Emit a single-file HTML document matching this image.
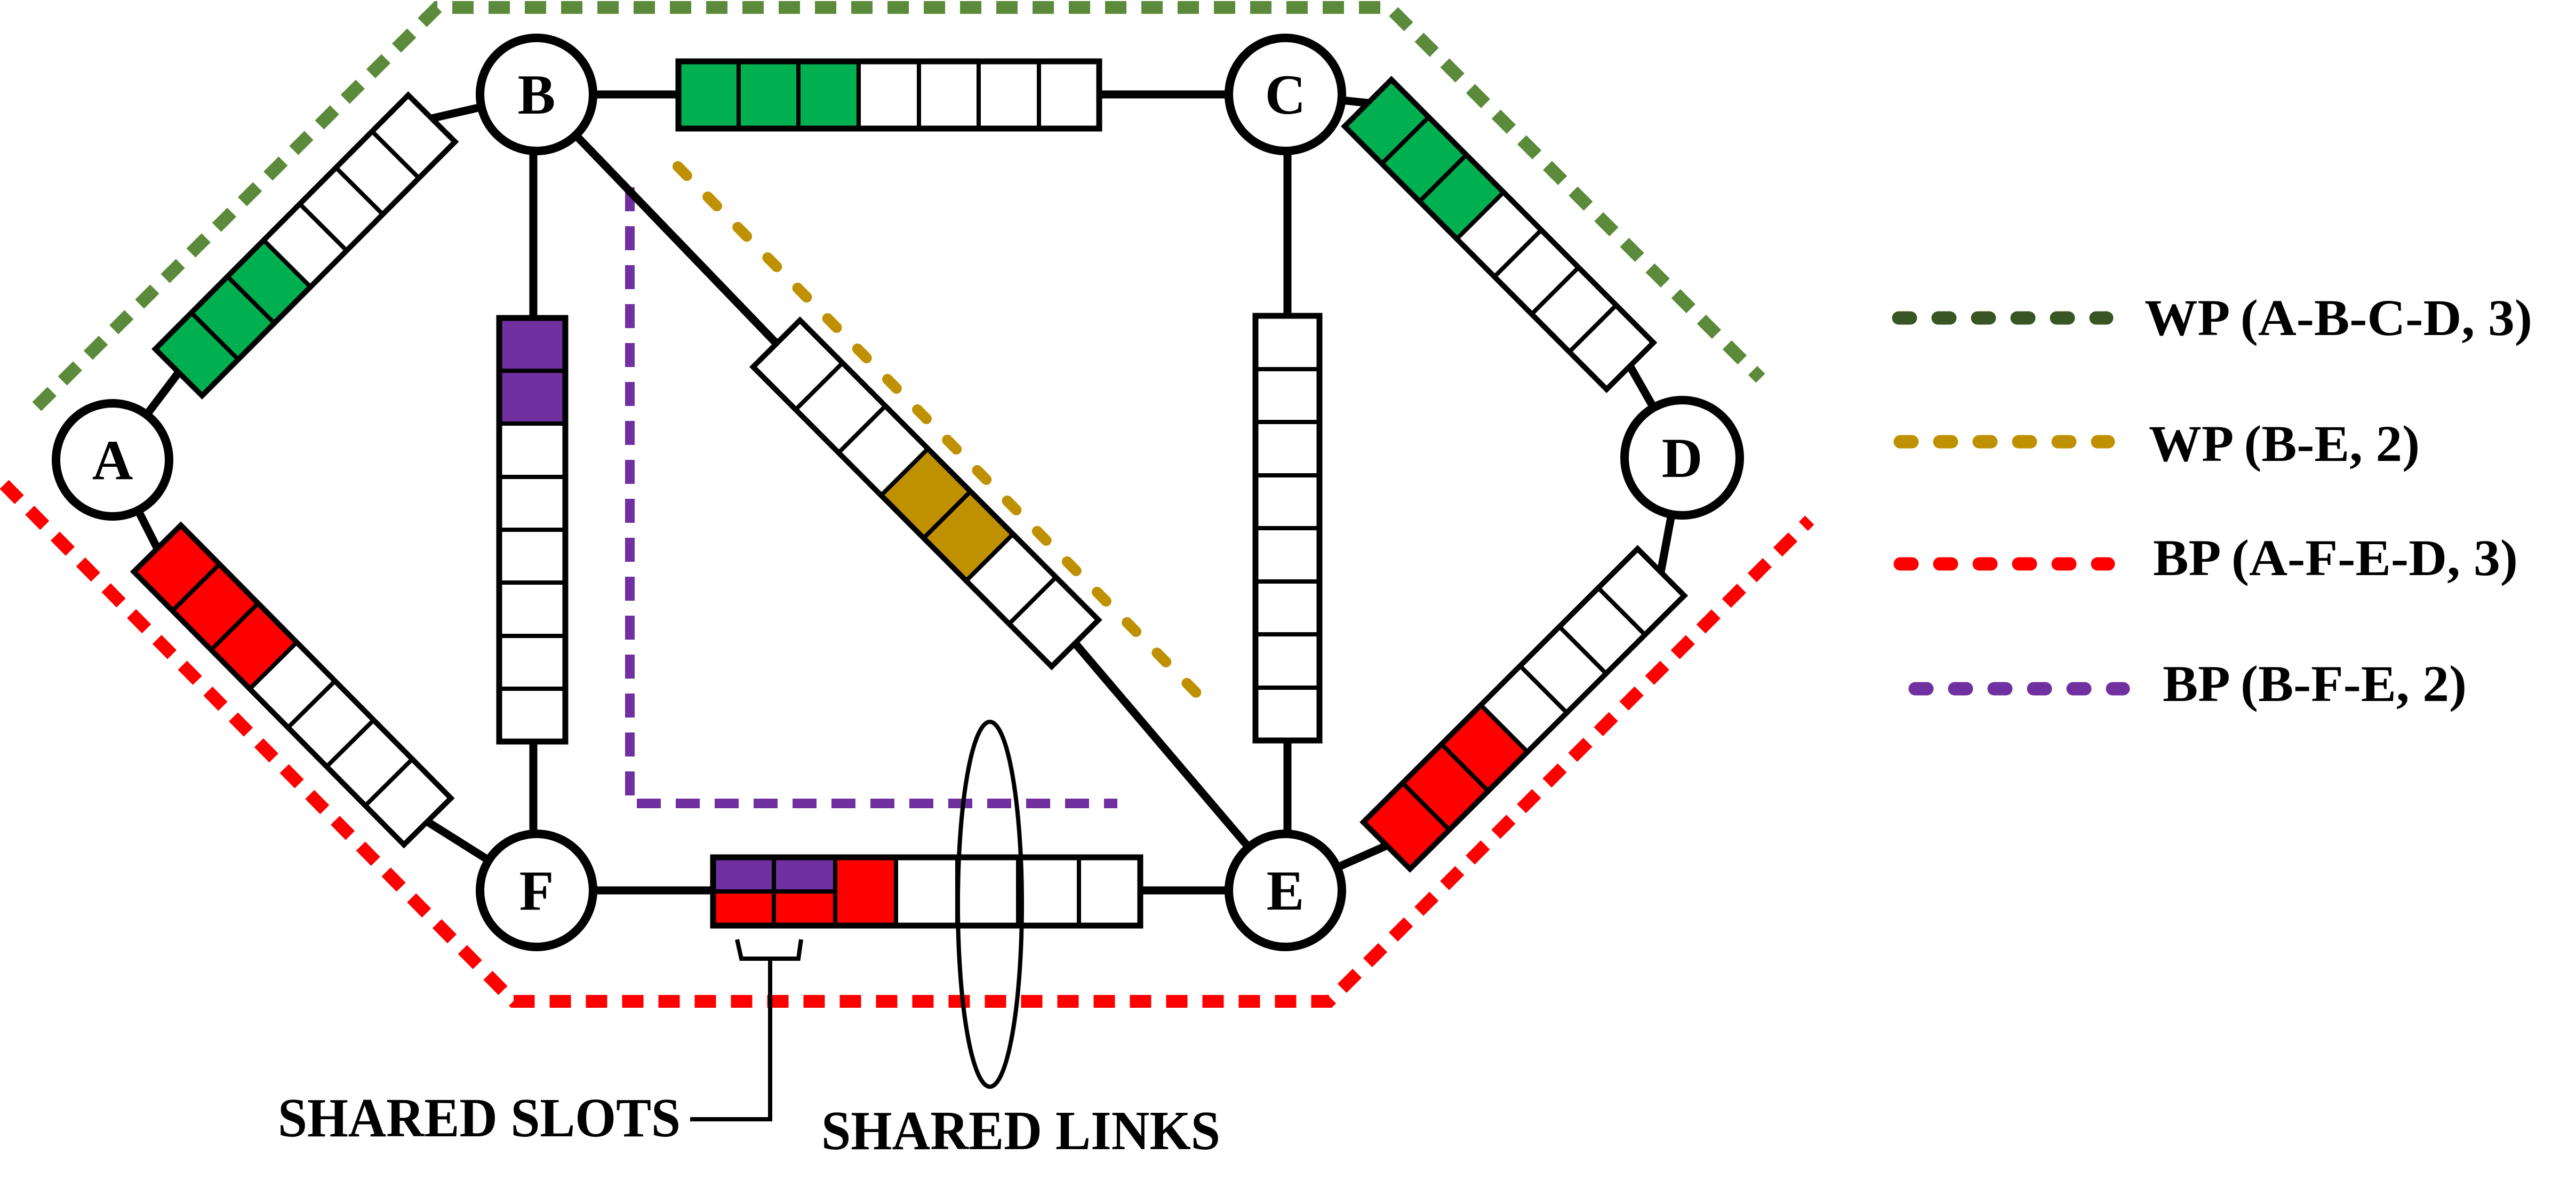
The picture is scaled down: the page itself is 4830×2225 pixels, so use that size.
<!DOCTYPE html>
<html><head><meta charset="utf-8"><style>
html,body{margin:0;padding:0;background:#fff;}
svg{display:block;}
text{font-family:"Liberation Serif",serif;font-weight:bold;fill:#000;}
</style></head><body>
<svg width="4830" height="2225" viewBox="0 0 4830 2225" xmlns="http://www.w3.org/2000/svg">
<rect width="4830" height="2225" fill="#fff"/>

<!-- dashed path outlines -->
<polyline points="69,762 820,14 2605,14 3301,709" fill="none" stroke="#5b8a3a" stroke-width="24" stroke-dasharray="40 28"/>
<polyline points="8,908 963,1877 2492,1877 3393,975" fill="none" stroke="#ff0000" stroke-width="24" stroke-dasharray="40 28"/>
<line x1="1271" y1="312" x2="2272" y2="1328" stroke="#bf9000" stroke-width="20" stroke-linecap="round" stroke-dasharray="24 56"/>
<polyline points="1181,351 1181,1506 2095,1506" fill="none" stroke="#7030a0" stroke-width="18" stroke-dasharray="45 28"/>

<!-- links -->
<g stroke="#000" stroke-width="15" fill="none">
<line x1="211" y1="862" x2="335" y2="698"/>
<line x1="809" y1="222" x2="1006" y2="177"/>
<line x1="211" y1="862" x2="295" y2="1028"/>
<line x1="801" y1="1540" x2="1006" y2="1669"/>
<line x1="1006" y1="177" x2="2410" y2="177"/>
<line x1="1000" y1="177" x2="1000" y2="1669"/>
<line x1="2414" y1="177" x2="2414" y2="1669"/>
<line x1="1006" y1="177" x2="1456" y2="644"/>
<line x1="2016" y1="1206" x2="2410" y2="1669"/>
<line x1="2410" y1="177" x2="2565" y2="193"/>
<line x1="3056" y1="686" x2="3154" y2="858"/>
<line x1="3154" y1="858" x2="3114" y2="1072"/>
<line x1="2600" y1="1585" x2="2410" y2="1669"/>
<line x1="1006" y1="1669" x2="2410" y2="1669"/>
</g>

<!-- diagonal bars -->
<!-- A-B -->
<g transform="translate(335,698) rotate(-45.1)">
<rect x="0" y="-62" width="96" height="124" fill="#00b050"/>
<rect x="96" y="-62" width="96" height="124" fill="#00b050"/>
<rect x="192" y="-62" width="96" height="124" fill="#00b050"/>
<rect x="288" y="-62" width="384" height="124" fill="#fff"/>
<g stroke="#000" stroke-width="8"><line x1="96" y1="-62" x2="96" y2="62"/><line x1="192" y1="-62" x2="192" y2="62"/><line x1="288" y1="-62" x2="288" y2="62"/><line x1="384" y1="-62" x2="384" y2="62"/><line x1="480" y1="-62" x2="480" y2="62"/><line x1="576" y1="-62" x2="576" y2="62"/></g>
<rect x="0" y="-62" width="672" height="124" fill="none" stroke="#000" stroke-width="10"/>
</g>
<!-- A-F -->
<g transform="translate(295,1028) rotate(45.3)">
<rect x="0" y="-62" width="309" height="124" fill="#ff0000"/>
<rect x="309" y="-62" width="411" height="124" fill="#fff"/>
<g stroke="#000" stroke-width="8"><line x1="103" y1="-62" x2="103" y2="62"/><line x1="206" y1="-62" x2="206" y2="62"/><line x1="309" y1="-62" x2="309" y2="62"/><line x1="411" y1="-62" x2="411" y2="62"/><line x1="514" y1="-62" x2="514" y2="62"/><line x1="617" y1="-62" x2="617" y2="62"/></g>
<rect x="0" y="-62" width="720" height="124" fill="none" stroke="#000" stroke-width="10"/>
</g>
<!-- C-D -->
<g transform="translate(2565,193) rotate(45.1)">
<rect x="0" y="-62" width="298" height="124" fill="#00b050"/>
<rect x="298" y="-62" width="398" height="124" fill="#fff"/>
<g stroke="#000" stroke-width="8"><line x1="99" y1="-62" x2="99" y2="62"/><line x1="199" y1="-62" x2="199" y2="62"/><line x1="298" y1="-62" x2="298" y2="62"/><line x1="398" y1="-62" x2="398" y2="62"/><line x1="497" y1="-62" x2="497" y2="62"/><line x1="597" y1="-62" x2="597" y2="62"/></g>
<rect x="0" y="-62" width="696" height="124" fill="none" stroke="#000" stroke-width="10"/>
</g>
<!-- D-E -->
<g transform="translate(2600,1585) rotate(-44.9)">
<rect x="0" y="-62" width="311" height="124" fill="#ff0000"/>
<rect x="311" y="-62" width="415" height="124" fill="#fff"/>
<g stroke="#000" stroke-width="8"><line x1="104" y1="-62" x2="104" y2="62"/><line x1="207" y1="-62" x2="207" y2="62"/><line x1="311" y1="-62" x2="311" y2="62"/><line x1="415" y1="-62" x2="415" y2="62"/><line x1="519" y1="-62" x2="519" y2="62"/><line x1="622" y1="-62" x2="622" y2="62"/></g>
<rect x="0" y="-62" width="726" height="124" fill="none" stroke="#000" stroke-width="10"/>
</g>
<!-- B-E -->
<g transform="translate(1456,644) rotate(45.1)">
<rect x="0" y="-62" width="793" height="124" fill="#fff"/>
<rect x="340" y="-62" width="226" height="124" fill="#bf9000"/>
<g stroke="#000" stroke-width="8"><line x1="113" y1="-62" x2="113" y2="62"/><line x1="227" y1="-62" x2="227" y2="62"/><line x1="340" y1="-62" x2="340" y2="62"/><line x1="453" y1="-62" x2="453" y2="62"/><line x1="566" y1="-62" x2="566" y2="62"/><line x1="680" y1="-62" x2="680" y2="62"/></g>
<rect x="0" y="-62" width="793" height="124" fill="none" stroke="#000" stroke-width="10"/>
</g>

<!-- B-C horizontal bar -->
<g>
<rect x="1272" y="115" width="789" height="126" fill="#fff"/>
<rect x="1272" y="115" width="338" height="126" fill="#00b050"/>
<g stroke="#000" stroke-width="8"><line x1="1385" y1="115" x2="1385" y2="241"/><line x1="1497" y1="115" x2="1497" y2="241"/><line x1="1610" y1="115" x2="1610" y2="241"/><line x1="1723" y1="115" x2="1723" y2="241"/><line x1="1835" y1="115" x2="1835" y2="241"/><line x1="1948" y1="115" x2="1948" y2="241"/></g>
<rect x="1272" y="115" width="789" height="126" fill="none" stroke="#000" stroke-width="11"/>
</g>

<!-- F-E horizontal bar -->
<g>
<rect x="1337" y="1607" width="801" height="128" fill="#fff"/>
<rect x="1337" y="1607" width="229" height="64" fill="#7030a0"/>
<rect x="1337" y="1671" width="229" height="64" fill="#ff0000"/>
<rect x="1566" y="1607" width="114" height="128" fill="#ff0000"/>
<g stroke="#000" stroke-width="8"><line x1="1451" y1="1607" x2="1451" y2="1735"/><line x1="1566" y1="1607" x2="1566" y2="1735"/><line x1="1680" y1="1607" x2="1680" y2="1735"/><line x1="1795" y1="1607" x2="1795" y2="1735"/><line x1="1909" y1="1607" x2="1909" y2="1735"/><line x1="2023" y1="1607" x2="2023" y2="1735"/><line x1="1337" y1="1671" x2="1566" y2="1671"/></g>
<rect x="1337" y="1607" width="801" height="128" fill="none" stroke="#000" stroke-width="11"/>
</g>

<!-- B-F vertical bar -->
<g>
<rect x="936" y="596" width="124" height="794" fill="#fff"/>
<rect x="936" y="596" width="124" height="198" fill="#7030a0"/>
<g stroke="#000" stroke-width="8"><line x1="936" y1="695" x2="1060" y2="695"/><line x1="936" y1="794" x2="1060" y2="794"/><line x1="936" y1="894" x2="1060" y2="894"/><line x1="936" y1="993" x2="1060" y2="993"/><line x1="936" y1="1092" x2="1060" y2="1092"/><line x1="936" y1="1192" x2="1060" y2="1192"/><line x1="936" y1="1291" x2="1060" y2="1291"/></g>
<rect x="936" y="596" width="124" height="794" fill="none" stroke="#000" stroke-width="11"/>
</g>
<!-- C-E vertical bar -->
<g>
<rect x="2354" y="592" width="120" height="796" fill="#fff"/>
<g stroke="#000" stroke-width="8"><line x1="2354" y1="692" x2="2474" y2="692"/><line x1="2354" y1="791" x2="2474" y2="791"/><line x1="2354" y1="891" x2="2474" y2="891"/><line x1="2354" y1="990" x2="2474" y2="990"/><line x1="2354" y1="1090" x2="2474" y2="1090"/><line x1="2354" y1="1189" x2="2474" y2="1189"/><line x1="2354" y1="1289" x2="2474" y2="1289"/></g>
<rect x="2354" y="592" width="120" height="796" fill="none" stroke="#000" stroke-width="11"/>
</g>

<!-- nodes -->
<g fill="#fff" stroke="#000" stroke-width="16">
<circle cx="211" cy="862" r="106"/>
<circle cx="1006" cy="177" r="106"/>
<circle cx="2410" cy="177" r="106"/>
<circle cx="3154" cy="858" r="108"/>
<circle cx="2410" cy="1669" r="106"/>
<circle cx="1006" cy="1669" r="106"/>
</g>
<g font-size="106" text-anchor="middle">
<text x="211" y="898">A</text>
<text x="1006" y="213">B</text>
<text x="2410" y="213">C</text>
<text x="3154" y="894">D</text>
<text x="2410" y="1705">E</text>
<text x="1006" y="1705">F</text>
</g>

<!-- shared links ellipse -->
<ellipse cx="1856" cy="1695" rx="60" ry="342" fill="none" stroke="#000" stroke-width="8"/>
<!-- shared slots bracket -->
<path d="M1382,1761 L1390,1797 L1497,1797 L1502,1761" fill="none" stroke="#000" stroke-width="8"/>
<polyline points="1444,1797 1444,2098 1294,2098" fill="none" stroke="#000" stroke-width="8"/>
<text x="521" y="2130" font-size="104" textLength="755" lengthAdjust="spacingAndGlyphs">SHARED SLOTS</text>
<text x="1540" y="2154" font-size="104" textLength="748" lengthAdjust="spacingAndGlyphs">SHARED LINKS</text>

<!-- legend -->
<g stroke-width="25" stroke-linecap="round" fill="none">
<line x1="3560" y1="596" x2="3950" y2="596" stroke="#375623" stroke-dasharray="22 52"/>
<line x1="3563" y1="828" x2="3953" y2="828" stroke="#bf9000" stroke-dasharray="22 52"/>
<line x1="3563" y1="1057" x2="3953" y2="1057" stroke="#ff0000" stroke-dasharray="22 52"/>
<line x1="3591" y1="1291" x2="3981" y2="1291" stroke="#7030a0" stroke-dasharray="22 52"/>
</g>
<g font-size="96">
<text x="4021" y="628" textLength="727" lengthAdjust="spacingAndGlyphs">WP (A-B-C-D, 3)</text>
<text x="4029" y="864" textLength="508" lengthAdjust="spacingAndGlyphs">WP (B-E, 2)</text>
<text x="4037" y="1078" textLength="684" lengthAdjust="spacingAndGlyphs">BP (A-F-E-D, 3)</text>
<text x="4055" y="1314" textLength="570" lengthAdjust="spacingAndGlyphs">BP (B-F-E, 2)</text>
</g>
</svg>
</body></html>
